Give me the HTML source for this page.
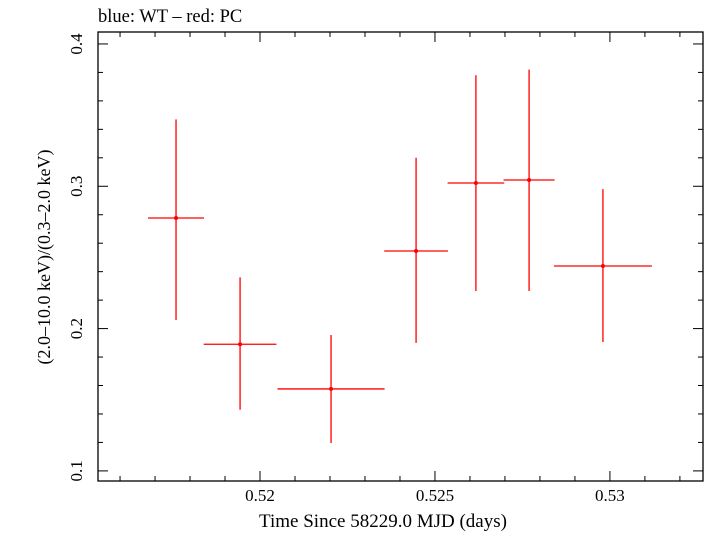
<!DOCTYPE html>
<html><head><meta charset="utf-8"><style>
body{margin:0;background:#fff;}
svg text{font-family:"Liberation Serif",serif;fill:#000;}
</style></head><body>
<svg id="chart" width="705" height="532" xmlns="http://www.w3.org/2000/svg">
<text x="98" y="22" font-size="18.5">blue: WT – red: PC</text>
<rect x="98" y="32" width="605" height="449" fill="none" stroke="#000" stroke-width="1.3"/>
<g id="ticks"></g><g id="pts"></g>
<text x="383" y="527" font-size="19" text-anchor="middle">Time Since 58229.0 MJD (days)</text>
<text transform="translate(50,257) rotate(-90)" font-size="18" text-anchor="middle">(2.0–10.0 keV)/(0.3–2.0 keV)</text>
</svg>
<script>
const xVals=[0.5176,0.51943,0.52203,0.52446,0.52617,0.52769,0.5298];
const xErr=[0.0008,0.00104,0.00153,0.00091,0.00081,0.00073,0.0014];
const yVals=[0.2777,0.189,0.1576,0.2545,0.3023,0.3044,0.244];
const yHi=[0.347,0.236,0.1955,0.320,0.378,0.382,0.298];
const yLo=[0.206,0.143,0.1196,0.190,0.2264,0.2264,0.1906];
const xTicks=[0.52,0.525,0.53];
const xTickLabels=["0.52","0.525","0.53"];
const yTicks=[0.1,0.2,0.3,0.4];
const yTickLabels=["0.1","0.2","0.3","0.4"];
const X0=0.51537,X1=0.53266,Y0=0.0929,Y1=0.4084;
const L=98,R=703,T=32,B=481;
function sx(v){return L+(v-X0)/(X1-X0)*(R-L);}
function sy(v){return B-(v-Y0)/(Y1-Y0)*(B-T);}
const NS="http://www.w3.org/2000/svg";
function mk(tag,attrs,parent){const e=document.createElementNS(NS,tag);for(const k in attrs)e.setAttribute(k,attrs[k]);parent.appendChild(e);return e;}
const tg=document.getElementById('ticks');
for(let i=Math.ceil(X0/0.001);i*0.001<=X1;i++){const v=i*0.001;const major=Math.abs(v/0.005-Math.round(v/0.005))<1e-6;const len=major?10:5;const x=sx(v);
 let t=mk('line',{x1:x,x2:x,y1:B,y2:B-len,stroke:'#000'},tg);
 
 
 let t2=mk('line',{x1:x,x2:x,y1:T,y2:T+len,stroke:'#000'},tg);
 
 }
xTicks.forEach((v,i)=>{const t=mk('text',{x:sx(v),y:B+20,'font-size':17,'text-anchor':'middle'},tg);t.textContent=xTickLabels[i];
 
 });
for(let i=Math.ceil(Y0/0.02);i*0.02<=Y1;i++){const v=i*0.02;const major=Math.abs(v/0.1-Math.round(v/0.1))<1e-6;const len=major?10:5;const y=sy(v);
 let t=mk('line',{x1:L,x2:L+len,y1:y,y2:y,stroke:'#000'},tg);
 
 
 let t2=mk('line',{x1:R,x2:R-len,y1:y,y2:y,stroke:'#000'},tg);
 
 }
yTicks.forEach((v,i)=>{const t=mk('text',{transform:`translate(82,${sy(v)}) rotate(-90)`,'font-size':17,'text-anchor':'middle'},tg);t.textContent=yTickLabels[i];
 
 });
const pg=document.getElementById('pts');
xVals.forEach((xv,i)=>{const g=mk('g',{},pg);
 
 
 mk('line',{x1:sx(xv-xErr[i]),x2:sx(xv+xErr[i]),y1:sy(yVals[i]),y2:sy(yVals[i]),stroke:'#f00','stroke-width':1.3},g);
 mk('line',{x1:sx(xv),x2:sx(xv),y1:sy(yHi[i]),y2:sy(yLo[i]),stroke:'#f00','stroke-width':1.3},g);
 mk('circle',{cx:sx(xv),cy:sy(yVals[i]),r:2,fill:'#f00'},g);});
</script>
</body></html>
